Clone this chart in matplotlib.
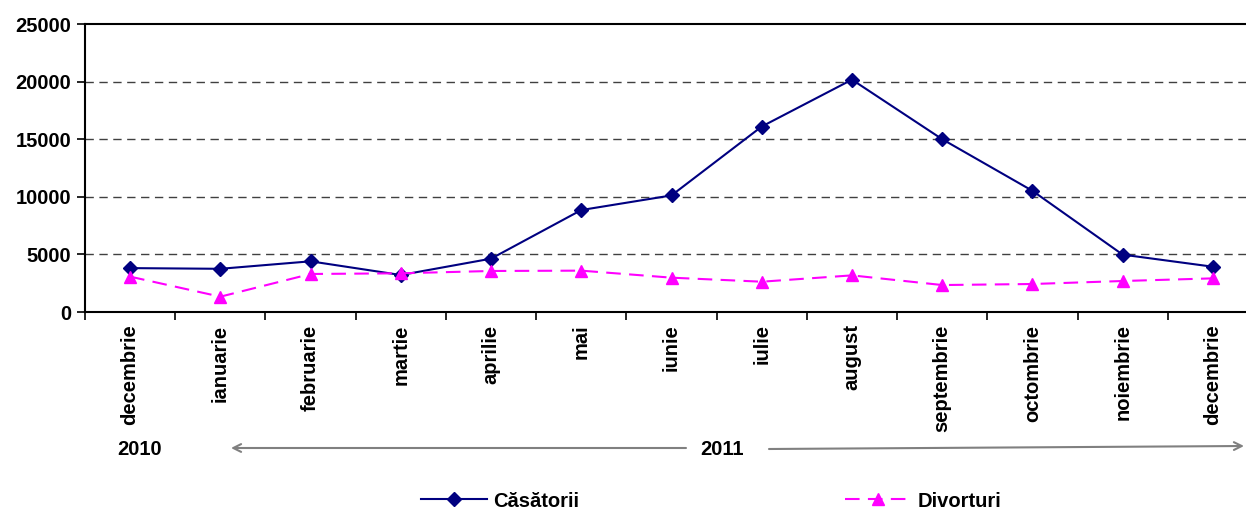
import numpy as np
import matplotlib
matplotlib.use("Agg")
import matplotlib.pyplot as plt

plt.rcParams['font.family'] = ['Liberation Sans', 'DejaVu Sans']
plt.rcParams['font.weight'] = 'bold'

months = ["decembrie", "ianuarie", "februarie", "martie", "aprilie", "mai", "iunie",
          "iulie", "august", "septembrie", "octombrie", "noiembrie", "decembrie"]
casatorii = [3810, 3750, 4400, 3210, 4630, 8850, 10120, 16100, 20170, 15000, 10520, 4980, 3930]
divorturi = [3070, 1330, 3300, 3360, 3560, 3590, 2980, 2630, 3180, 2340, 2430, 2690, 2920]
years = ["2010", "2011"]

fs = 14.5

fig = plt.figure(figsize=(12.46, 5.11), dpi=100)
ax = fig.add_axes([85/1246, 1-312/511, 1173/1246, 288/511])

x = np.arange(len(months))
ax.plot(x, casatorii, color="#000080", lw=1.5, marker="D", ms=7, label="Căsătorii", zorder=3)
ax.plot(x, divorturi, color="#FF00FF", lw=1.5, ls=(0, (7, 4)), marker="^", ms=9,
        label="Divorturi", zorder=3)

ax.set_xlim(-0.5, len(months) - 0.5)
ax.set_ylim(0, 25000)
ax.set_yticks([0, 5000, 10000, 15000, 20000, 25000])
ax.tick_params(axis="y", labelsize=fs, length=6, width=1.2, direction="out", pad=4)

# boundaries get the tick marks, the month names sit between them
ax.set_xticks(np.arange(-0.5, len(months)), [])
ax.set_xticks(x, months, minor=True, rotation=90, fontsize=fs, fontweight="bold")
ax.tick_params(axis="x", which="major", length=6, width=1.2, direction="out")
ax.tick_params(axis="x", which="minor", length=0, pad=9)

for v in [5000, 10000, 15000, 20000]:
    ax.axhline(v, color="#404040", lw=1, ls=(0, (6, 4)), zorder=1)

for s in ["left", "bottom", "top"]:
    ax.spines[s].set_linewidth(1.5)
ax.spines["right"].set_visible(False)

fig.text(140/1246, 1-449/511, years[0], ha="center", va="center", fontsize=fs, fontweight="bold")
fig.text(722/1246, 1-449/511, years[1], ha="center", va="center", fontsize=fs, fontweight="bold")

# overlay in pixel coords for the year arrows
ax2 = fig.add_axes([0, 0, 1, 1], facecolor="none")
ax2.set_xlim(0, 1246)
ax2.set_ylim(511, 0)
ax2.axis("off")
ax2.annotate("", xy=(231, 448), xytext=(686, 448),
             arrowprops=dict(arrowstyle="->", color="#808080", lw=1.5, shrinkA=0, shrinkB=0,
                             mutation_scale=14))
ax2.annotate("", xy=(1244, 446), xytext=(769, 449),
             arrowprops=dict(arrowstyle="->", color="#808080", lw=1.5, shrinkA=0, shrinkB=0,
                             mutation_scale=14))

fig.legend(loc="center", bbox_to_anchor=(711/1246, 1-501/511), ncol=2, frameon=False,
           handlelength=3.3, handletextpad=0.3, columnspacing=13.2,
           prop={"weight": "bold", "size": fs})

fig.savefig("out.png", dpi=100)
